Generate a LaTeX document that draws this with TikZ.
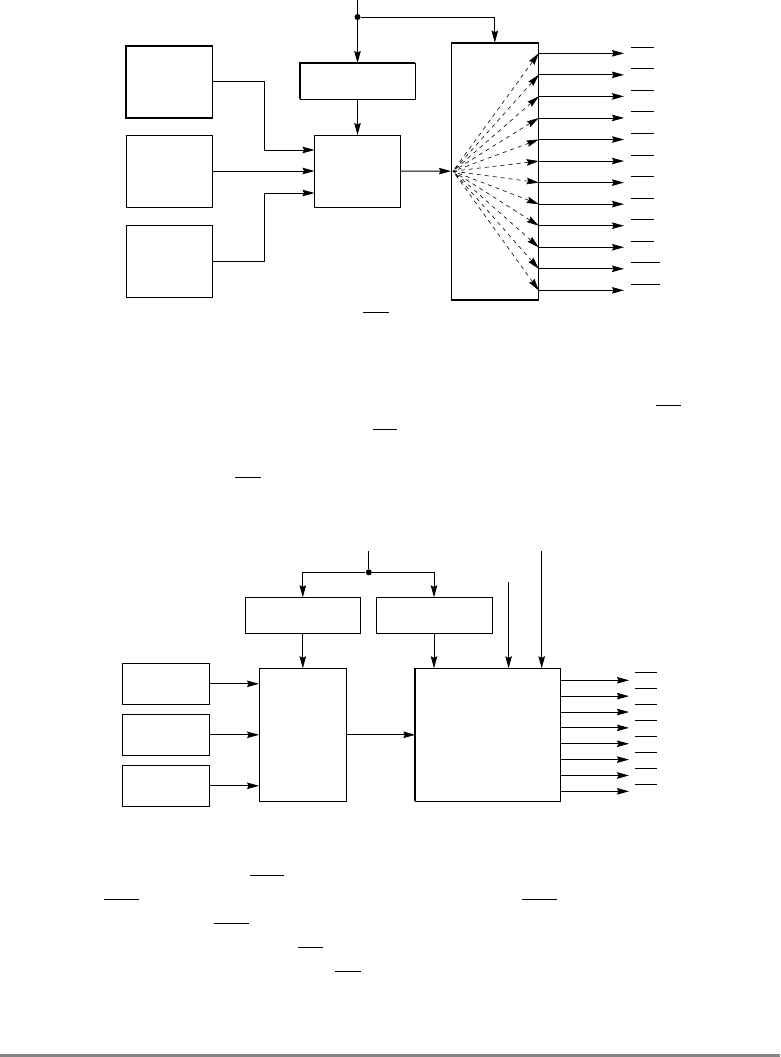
\documentclass[tikz,border=0pt]{standalone}
\usetikzlibrary{arrows.meta}

\definecolor{rulegray}{HTML}{858585}

\begin{document}
\begin{tikzpicture}[
  x=1pt, y=-1pt,
  line width=0.9pt,
  >={Stealth[length=12pt,width=6.5pt,inset=1.5pt]},
  box/.style={rectangle, draw, inner sep=0pt, outer sep=0pt},
  junction/.style={circle, fill=black, minimum size=6pt, inner sep=0pt},
  fan/.style={line width=0.6pt, dash pattern=on 4pt off 4pt},
  heavy/.style={line width=1.8pt},
  ovl/.style={line width=1pt}
  ]

  \useasboundingbox (0,0) rectangle (780,1057);

  % upper diagram: boxes
  \node[box, minimum width=86.6pt, minimum height=72pt] (s1) at (169.3,81.7) {};
  \node[box, minimum width=86.6pt, minimum height=72pt] (s2) at (169.3,171) {};
  \node[box, minimum width=86.6pt, minimum height=72pt] (s3) at (169.3,261) {};
  \node[box, minimum width=115pt, minimum height=36pt] (ctl) at (357.5,81) {};
  \node[box, minimum width=86pt, minimum height=72pt] (mux) at (357.5,171) {};
  \node[box, minimum width=87.7pt, minimum height=257pt] (dist) at (494.8,171.2) {};

  \draw[heavy] (s1.north east) -- (s1.north west) -- (s1.south west) -- (s1.south east);
  \draw[heavy] (ctl.south west) -- (ctl.north west) -- (ctl.north east);
  \draw[heavy] (dist.north west) -- (dist.north east);
  \draw[heavy] (dist.south west) -- (dist.south east);

  \coordinate (top1) at (357.5,0);
  \node[junction] (j1) at (357.5,17) {};
  \coordinate (f0) at ([xshift=2pt]dist.west);

  \draw (top1) -- (j1);
  \draw (ctl) [<-] to[] (j1);
  \draw[->] (j1) -| (dist.north);
  \draw (mux) [<-] to[] (ctl);

  \draw[->] (s1.east) -- (264,81.7) |- ([yshift=21pt]mux.west);
  \draw (mux) [<-] to[] (s2);
  \draw[->] (s3.east) -- (264,261) |- ([yshift=-22pt]mux.west);
  \draw (dist) [<-] to[] (mux);

  % fan of outputs
  \foreach \i in {0,...,11} {
    \coordinate (o\i) at (538.7,53.3+21.55*\i);
    \coordinate (t\i) at (624,53.3+21.55*\i);
    \draw[fan] (o\i) [<-] to[] (f0);
    \draw (t\i) [<-] to[] (o\i);
  }
  \foreach \i in {0,...,9}
    \draw[ovl] (630.5,47.3+21.55*\i) -- (654,47.3+21.55*\i);
  \foreach \i in {10,11}
    \draw[ovl] (630.5,47.3+21.55*\i) -- (659.5,47.3+21.55*\i);

  \draw[ovl] (362.8,312.3) -- (389,312.3);

  % text between the diagrams
  \draw[ovl] (656,405) -- (681,405);
  \draw[ovl] (372.5,429) -- (396.5,429);
  \draw[ovl] (235,477) -- (261,477);

  % lower diagram: boxes
  \node[box, minimum width=115.6pt, minimum height=36pt] (regA) at (302.8,615.3) {};
  \node[box, minimum width=116pt, minimum height=36pt] (regB) at (434,615.3) {};
  \node[box, minimum width=86.3pt, minimum height=41pt] (in1) at (165.9,683.8) {};
  \node[box, minimum width=86.3pt, minimum height=41pt] (in2) at (165.9,734.8) {};
  \node[box, minimum width=86.3pt, minimum height=41pt] (in3) at (165.9,785.8) {};
  \node[box, minimum width=87.5pt, minimum height=133pt] (sel) at (302.8,734.8) {};
  \node[box, minimum width=145.3pt, minimum height=133pt] (dec) at (488,734.8) {};

  \draw[heavy] (dec.north west) -- (dec.south west);

  \coordinate (top2) at (368.8,551);
  \node[junction] (j2) at (368.8,572.3) {};
  \coordinate (c1) at (508.6,582);
  \coordinate (c2) at (541.7,551);

  \draw (top2) -- (j2);
  \draw[->] (j2) -| (regA.north);
  \draw[->] (j2) -| (regB.north);
  \draw (sel) [<-] to[] (regA);
  \draw[->] (regB.south) -- (regB.south |- dec.north);
  \draw[->] (c1) -- (c1 |- dec.north);
  \draw[->] (c2) -- (c2 |- dec.north);

  \draw[->] (in1.east) -- (in1.east -| sel.west);
  \draw[->] (in2.east) -- (in2.east -| sel.west);
  \draw[->] (in3.east) -- (in3.east -| sel.west);
  \draw (dec) [<-] to[] (sel);

  % decoder outputs
  \foreach \i in {0,...,7} {
    \coordinate (p\i) at (560.6,680.3+15.86*\i);
    \coordinate (q\i) at (629,680.3+15.86*\i);
    \draw (q\i) [<-] to[] (p\i);
    \draw[ovl] (634.6,672.3+16*\i) -- (657,672.3+16*\i);
  }

  % text below
  \draw[ovl] (250,875) -- (284,875);
  \draw[ovl] (103.5,899.3) -- (139,899.3);
  \draw[ovl] (521.5,899.3) -- (556.5,899.3);
  \draw[ovl] (213.5,923.3) -- (249,923.3);
  \draw[ovl] (298,947) -- (322.5,947);
  \draw[ovl] (335,971) -- (361,971);

  \fill[rulegray] (0,1054) rectangle (780,1057);

\end{tikzpicture}
\end{document}
